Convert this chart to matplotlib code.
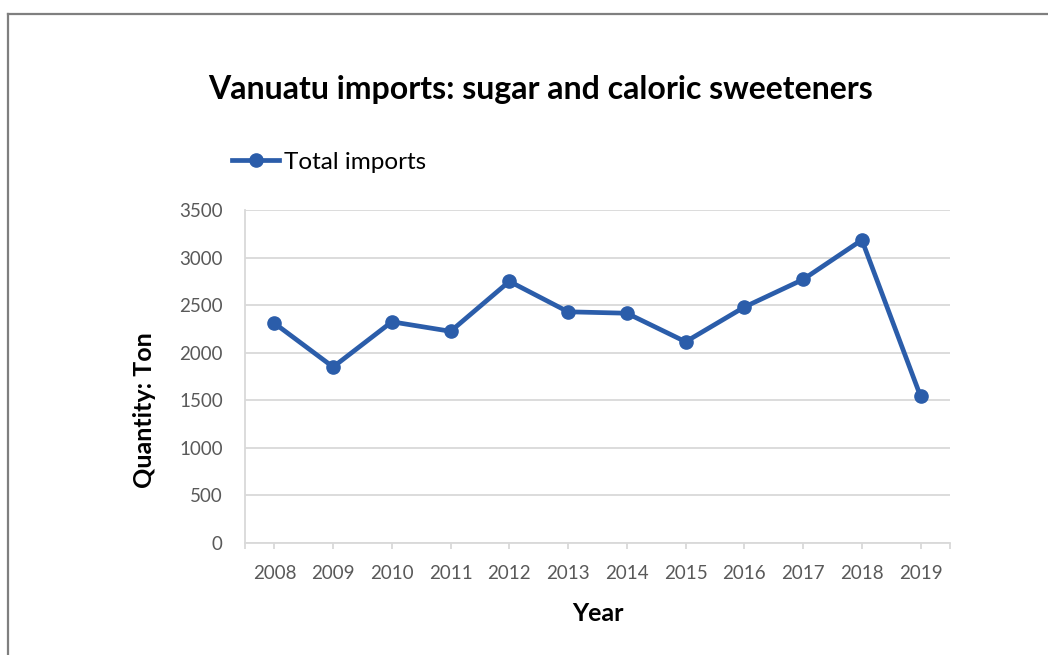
import numpy as np
import matplotlib.pyplot as plt
from matplotlib.lines import Line2D

# data
years = ['2008', '2009', '2010', '2011', '2012', '2013',
         '2014', '2015', '2016', '2017', '2018', '2019']
imports = [2310, 1850, 2325, 2225, 2750, 2430, 2415, 2115, 2480, 2770, 3185, 1540]
yticks = [0, 500, 1000, 1500, 2000, 2500, 3000, 3500]

blue = '#2B5DAA'
grey_txt = '#595959'
grid_col = '#D9D9D9'

plt.rcParams['font.family'] = ['Lato', 'DejaVu Sans']

W, H = 1048, 655
fig = plt.figure(figsize=(W / 100, H / 100), dpi=100)

# axes box in pixels: left 245, right 950, top 210, bottom 543
ax = fig.add_axes([245 / W, 1 - 543 / H, (950 - 245) / W, (543 - 210) / H])

x = np.arange(len(years))
ax.plot(x, imports, color=blue, lw=3.4, marker='o', ms=9.5,
        solid_joinstyle='round', zorder=3)

ax.set_xlim(-0.5, len(years) - 0.5)
ax.set_ylim(0, 3500)
ax.set_yticks(yticks)
ax.set_yticklabels([str(v) for v in yticks], color=grey_txt, fontsize=13.5)
ax.set_xticks(x)
ax.set_xticklabels(years, color=grey_txt, fontsize=13.5)
ax.set_xticks([-0.5, len(years) - 0.5], minor=True)

ax.grid(axis='y', color=grid_col, lw=1.3)
ax.set_axisbelow(True)
for s in ['top', 'right']:
    ax.spines[s].set_visible(False)
ax.spines['left'].set_color(grid_col)
ax.spines['bottom'].set_color(grid_col)
ax.spines['left'].set_linewidth(1.3)
ax.spines['bottom'].set_linewidth(1.3)
ax.tick_params(axis='y', length=0, pad=16)
ax.tick_params(axis='x', which='both', length=4, color=grid_col, width=1.3, pad=12)

ax.set_xlabel('Year', fontsize=18, fontweight='bold', labelpad=14)
ax.set_ylabel('Quantity: Ton', fontsize=18, fontweight='bold')
ax.yaxis.set_label_coords(-89 / 705, (543 - 410) / 333)

fig.text(541 / W, 1 - 90 / H, 'Vanuatu imports: sugar and caloric sweeteners',
         ha='center', va='center', fontsize=23, fontweight='bold')

# legend
handle = Line2D([], [], color=blue, lw=3.4, marker='o', ms=9.5)
fig.legend([handle], ['Total imports'], loc='center left',
           bbox_to_anchor=(232 / W, 1 - 162 / H), frameon=False,
           fontsize=17.5, handlelength=1.95, handletextpad=0.17,
           borderpad=0, borderaxespad=0)

# outer frame (left and top edges visible)
fig.add_artist(Line2D([8 / W, 8 / W], [0, 1 - 14 / H], color='#7F7F7F', lw=1.6,
                      transform=fig.transFigure))
fig.add_artist(Line2D([8 / W, 1], [1 - 14 / H, 1 - 14 / H], color='#7F7F7F', lw=1.6,
                      transform=fig.transFigure))

fig.savefig('out.png', dpi=100)
